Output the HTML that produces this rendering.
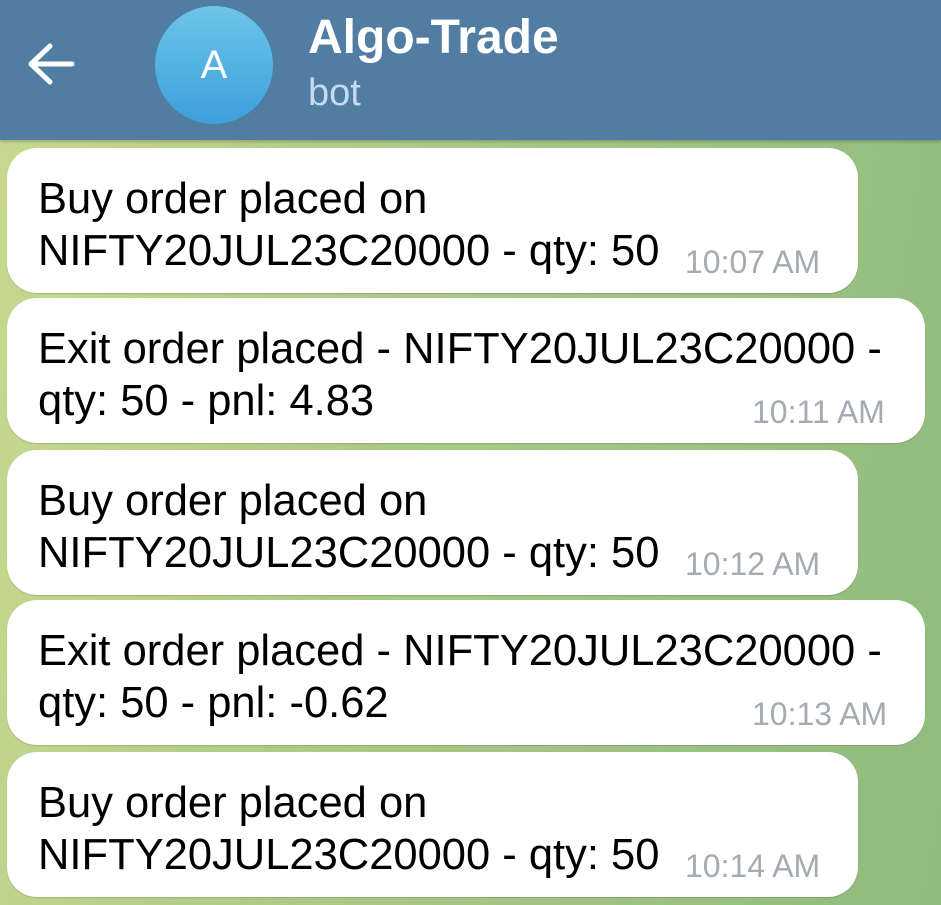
<!DOCTYPE html>
<html><head><meta charset="utf-8"><style>
*{margin:0;padding:0;box-sizing:border-box}
body{width:941px;height:905px;overflow:hidden;position:relative;font-family:"Liberation Sans",sans-serif;background:linear-gradient(100deg,#c9d98f 0%,#a9c985 45%,#8fbb7e 100%)}
.hdr{position:absolute;left:0;top:0;width:941px;height:140px;background:#517da2;box-shadow:0 2px 3px rgba(0,0,0,.2)}
.title{position:absolute;left:308px;top:10px;color:#fff;font-weight:bold;font-size:48px}
.sub{position:absolute;left:308px;top:72px;color:#c5dcf0;font-size:38px}
.av{position:absolute;left:155px;top:6px;width:118px;height:118px;border-radius:50%;background:linear-gradient(180deg,#6cc5e9,#3d9fdc);color:#fff;font-size:40px;text-align:center;line-height:118px}
.bub{position:absolute;left:7px;background:#fff;border-radius:30px;box-shadow:0 1px 1px rgba(0,0,0,.15)}
.t{position:absolute;left:31px;font-size:43.5px;color:#000;white-space:nowrap}
.tm{position:absolute;font-size:32px;color:#a3abb3;white-space:nowrap}
</style></head><body>
<div class="hdr">
<svg style="position:absolute;left:26px;top:42px" width="50" height="44" viewBox="0 0 50 44"><path d="M46 22H6M24 4L5 22l19 18" stroke="#fff" stroke-width="5" fill="none" stroke-linecap="round" stroke-linejoin="round"/></svg>
<div class="av">A</div>
<div class="title">Algo-Trade</div>
<div class="sub">bot</div>
</div>

<div class="bub" style="top:148px;width:851px;height:145px">
<div class="t" style="top:27px">Buy order placed on</div>
<div class="t" style="top:79px">NIFTY20JUL23C20000 - qty: 50</div>
<div class="tm" style="left:678px;top:96px">10:07 AM</div>
</div>
<div class="bub" style="top:298px;width:918px;height:145px">
<div class="t" style="top:27px">Exit order placed - NIFTY20JUL23C20000 -</div>
<div class="t" style="top:79px">qty: 50 - pnl: 4.83</div>
<div class="tm" style="left:745px;top:96px">10:11 AM</div>
</div>
<div class="bub" style="top:450px;width:851px;height:145px">
<div class="t" style="top:27px">Buy order placed on</div>
<div class="t" style="top:79px">NIFTY20JUL23C20000 - qty: 50</div>
<div class="tm" style="left:678px;top:96px">10:12 AM</div>
</div>
<div class="bub" style="top:600px;width:918px;height:145px">
<div class="t" style="top:27px">Exit order placed - NIFTY20JUL23C20000 -</div>
<div class="t" style="top:79px">qty: 50 - pnl: -0.62</div>
<div class="tm" style="left:745px;top:96px">10:13 AM</div>
</div>
<div class="bub" style="top:752px;width:851px;height:145px">
<div class="t" style="top:27px">Buy order placed on</div>
<div class="t" style="top:79px">NIFTY20JUL23C20000 - qty: 50</div>
<div class="tm" style="left:678px;top:96px">10:14 AM</div>
</div>
</body></html>
